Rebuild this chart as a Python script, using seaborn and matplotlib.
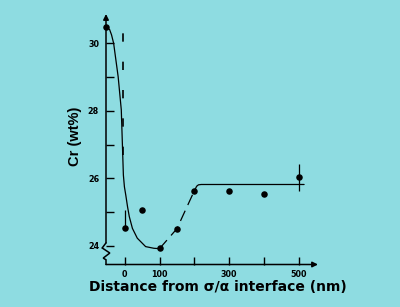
import matplotlib
matplotlib.use("Agg")
import matplotlib.pyplot as plt
import seaborn as sns
import pandas as pd
import numpy as np

# ---- data ----
dist_pts = [-54, 0, 50, 100, 150, 200, 300, 400, 500]
cr_pts = [30.49, 24.53, 25.05, 23.93, 24.51, 25.63, 25.63, 25.55, 26.03]

err_x = [0, 500]
err_y = [24.53, 26.03]
err_lo = [0.0, 0.39]
err_hi = [0.54, 0.40]

fit_x = [-44, -38, -32, -19, -10, -6, -4, -1, 3, 8, 13, 22, 36, 60, 84, 100]
fit_cr = [30.42, 30.25, 30.0, 29.01, 28.03, 26.74, 26.1, 25.75, 25.5, 25.16, 24.87, 24.52, 24.23, 23.98, 23.93, 23.92]

dash_x = [100, 150, 200, 207]
dash_cr = [23.92, 24.51, 25.63, 25.77]

plateau_x = [207, 212, 220, 516]
plateau_cr = [25.77, 25.81, 25.82, 25.82]

interface_x = -5
interface_cr = (26.7, 30.75)

x_ticks = [0, 100, 200, 300, 400, 500]
x_ticklabels = ["0", "100", "", "300", "", "500"]
y_ticks = [24, 25, 26, 27, 28, 29, 30]
y_ticklabels = ["24", "", "26", "", "28", "", "30"]

xlabel = "Distance from σ/α interface (nm)"
ylabel = "Cr (wt%)"

bg = "#8edce1"
XMIN, XMAX = -54, 556
YMIN, YMAX = 23.45, 30.87

sns.set_theme(style="ticks")
plt.rcParams["font.family"] = ["DejaVu Sans"]

fig = plt.figure(figsize=(4.0, 3.07), dpi=100, facecolor=bg)
ax = fig.add_axes([106 / 400, 1 - 264.5 / 307, (318 - 106) / 400, (264.5 - 14) / 307])
ax.set_facecolor(bg)
ax.patch.set_alpha(0)

pts = pd.DataFrame({"d": dist_pts, "cr": cr_pts})
fit = pd.DataFrame({"d": fit_x, "cr": fit_cr})
dsh = pd.DataFrame({"d": dash_x, "cr": dash_cr})
pla = pd.DataFrame({"d": plateau_x, "cr": plateau_cr})

sns.lineplot(data=fit, x="d", y="cr", sort=False, estimator=None, color="black",
             lw=0.9, ax=ax)
sns.lineplot(data=dsh, x="d", y="cr", sort=False, estimator=None, color="black",
             lw=0.9, ax=ax)
ax.lines[-1].set_dashes([9, 5])
sns.lineplot(data=pla, x="d", y="cr", sort=False, estimator=None, color="black",
             lw=0.9, ax=ax)

ax.errorbar(err_x, err_y, yerr=[err_lo, err_hi], fmt="none", ecolor="black",
            elinewidth=0.9, capsize=0)
sns.scatterplot(data=pts, x="d", y="cr", color="black", s=22, edgecolor="black",
                linewidth=0, ax=ax, zorder=5, clip_on=False)

ax.vlines(interface_x, interface_cr[0], interface_cr[1], colors="black", lw=1.2,
          linestyles=(0, (5, 12)))

ax.set_xlim(XMIN, XMAX)
ax.set_ylim(YMIN, YMAX)
for s in ax.spines.values():
    s.set_visible(False)

# axes with arrows and break
ax.annotate("", xy=(1, 0), xytext=(0, 0), xycoords="axes fraction",
            arrowprops=dict(arrowstyle="-|>", lw=1.1, color="black",
                            mutation_scale=8, shrinkA=0, shrinkB=0))
ax.annotate("", xy=(XMIN, YMAX), xytext=(XMIN, 24.09), xycoords="data",
            arrowprops=dict(arrowstyle="-|>", lw=1.1, color="black",
                            mutation_scale=8, shrinkA=0, shrinkB=0),
            annotation_clip=False)
zx = [XMIN, XMIN - 11, XMIN + 11, XMIN - 8, XMIN, XMIN]
zy = [24.09, 23.94, 23.79, 23.64, 23.59, YMIN]
ax.plot(zx, zy, color="black", lw=1.1, clip_on=False, solid_joinstyle="miter")

ax.set_xticks(x_ticks)
ax.set_xticklabels(x_ticklabels)
ax.set_yticks(y_ticks)
ax.set_yticklabels(y_ticklabels)
ax.tick_params(direction="in", length=5.6, width=1.0, color="black")
ax.tick_params(axis="x", pad=4)
ax.tick_params(axis="y", pad=5)
for lab in ax.get_xticklabels() + ax.get_yticklabels():
    lab.set_fontsize(5.8)
    lab.set_fontweight("bold")
    lab.set_color("black")

ax.set_xlabel("")
ax.set_ylabel("")
fig.text(217.5 / 400, 1 - 287 / 307, xlabel, ha="center", va="center", color="black",
         fontsize=10.0, fontweight="bold", family=["DejaVu Sans"])
fig.text(75 / 400, 1 - 136 / 307, ylabel, ha="center", va="center", rotation=90,
         color="black", fontsize=10.5, fontweight="bold",
         family=["Liberation Sans", "DejaVu Sans"])

fig.savefig("out.png", dpi=100, facecolor=bg)
